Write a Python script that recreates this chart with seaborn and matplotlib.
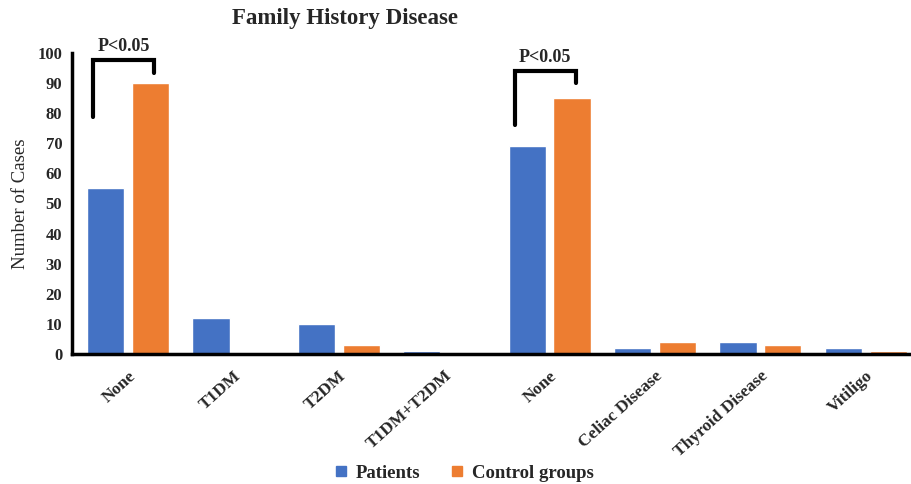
import matplotlib
matplotlib.use("Agg")
import matplotlib.pyplot as plt
import seaborn as sns
import pandas as pd
from matplotlib.lines import Line2D

categories = ["None", "T1DM", "T2DM", "T1DM+T2DM",
              "None ", "Celiac Disease", "Thyroid Disease", "Vitiligo"]
tick_labels = ["None", "T1DM", "T2DM", "T1DM+T2DM",
               "None", "Celiac Disease", "Thyroid Disease", "Vitiligo"]
patients = [55, 12, 10, 1, 69, 2, 4, 2]
controls = [90, 0, 3, 0, 85, 4, 3, 1]
groups = ["Patients", "Control groups"]
colors = ["#4472C4", "#ED7D31"]

df = pd.DataFrame({
    "category": categories * 2,
    "group": [groups[0]] * len(categories) + [groups[1]] * len(categories),
    "cases": patients + controls,
})

sns.set_style("white")
plt.rcParams["font.family"] = ["Liberation Serif", "DejaVu Serif"]

fig = plt.figure(figsize=(9.12, 4.84), dpi=100)
ax = fig.add_axes([0.079, 0.2686, 0.92, 0.6219])

sns.barplot(data=df, x="category", y="cases", hue="group", order=categories,
            hue_order=groups, palette=colors, width=0.85, gap=0.17,
            saturation=1, ax=ax, legend=False)

ax.set_ylim(0, 100)
ax.set_xlim(-0.53, 7.43)
ax.set_yticks(range(0, 101, 10))
ax.set_yticklabels([str(v) for v in range(0, 101, 10)],
                   fontweight="bold", fontsize=12)
ax.set_xticks(range(len(categories)))
ax.set_xticklabels(tick_labels, rotation=42, ha="right",
                   rotation_mode="anchor", fontweight="bold", fontsize=12.5)
ax.set_xlabel("")
ax.set_ylabel("Number of Cases", fontsize=13.5, labelpad=6)

for side in ["top", "right"]:
    ax.spines[side].set_visible(False)
for side in ["left", "bottom"]:
    ax.spines[side].set_linewidth(2.5)
    ax.spines[side].set_color("black")
ax.tick_params(axis="both", direction="out", length=4, width=2.5,
               color="black", pad=3)
ax.tick_params(axis="x", pad=6)

# significance brackets
brackets = [
    (0, 78.8, 97.7, 93.3),
    (4, 76.1, 94.1, 90.1),
]
for idx, lo, top, hi in brackets:
    xl, xr = idx - 0.33, idx + 0.25
    ax.plot([xl, xl, xr, xr], [lo, top, top, hi], color="black",
            lw=3, solid_joinstyle="miter", clip_on=False)
    ax.text((xl + xr) / 2, top + 1.5, "P<0.05", ha="center", va="bottom",
            fontweight="bold", fontsize=13, clip_on=False)

fig.text(0.378, 0.962, "Family History Disease", ha="center", va="center",
         fontweight="bold", fontsize=16.5)

handles = [Line2D([], [], marker="s", ls="none", color=c, markersize=6.5)
           for c in colors]
fig.legend(handles, groups, loc="center", bbox_to_anchor=(0.509, 0.022),
           ncol=2, frameon=False, handlelength=0.7, handletextpad=0.45,
           columnspacing=1.6, prop={"weight": "bold", "size": 13.5})

fig.savefig("out.png", dpi=100)
